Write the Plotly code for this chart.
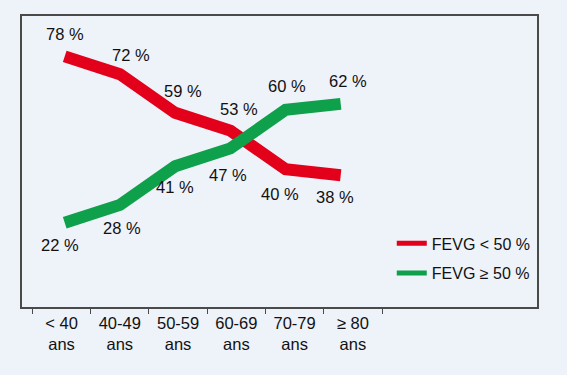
import plotly.graph_objects as go

# ---- data ----
categories = ["< 40<br>ans", "40-49<br>ans", "50-59<br>ans", "60-69<br>ans", "70-79<br>ans", "≥ 80<br>ans"]
fevg_low = [78, 72, 59, 53, 40, 38]      # FEVG < 50 %
fevg_high = [22, 28, 41, 47, 60, 62]     # FEVG ≥ 50 %
name_low = "FEVG < 50 %"
name_high = "FEVG ≥ 50 %"

# ---- styles ----
RED = "#E3001B"
GREEN = "#0EA04A"
BG = "#EEF2F9"
FONT = "Liberation Sans Narrow, Arial Narrow, Liberation Sans, Arial, sans-serif"
TXT = "#111111"
FS = 16.5
FS_LEG = 16

# label offsets in pixels (dx, dy up positive)
low_dx = [0, 11, 8, 9, -6, -6]
low_dy = [22, 19, 22, 22, -25, -22]
high_dx = [-5, 2, 0, -2, 1, 7]
high_dy = [-22, -23, -21, -27, 24, 23]

fig = go.Figure()

fig.add_trace(go.Scatter(x=categories, y=fevg_low, mode="lines", xaxis="x", yaxis="y",
                         line=dict(color=RED, width=12), showlegend=False, hoverinfo="skip"))
fig.add_trace(go.Scatter(x=categories, y=fevg_high, mode="lines", xaxis="x", yaxis="y",
                         line=dict(color=GREEN, width=12), showlegend=False, hoverinfo="skip"))
# legend entries
fig.add_trace(go.Scatter(x=[None], y=[None], mode="lines", name=name_low, legendgroup="a",
                         line=dict(color=RED, width=5)))
fig.add_trace(go.Scatter(x=[None], y=[None], mode="lines", name=name_high, legendgroup="b",
                         line=dict(color=GREEN, width=5)))
# helper trace for the category tick axis
fig.add_trace(go.Scatter(x=categories, y=[None] * len(categories), xaxis="x2", yaxis="y",
                         mode="lines", showlegend=False, hoverinfo="skip"))

annotations = []
for cat, v, dx, dy in zip(categories, fevg_low, low_dx, low_dy):
    annotations.append(dict(x=cat, y=v, xref="x", yref="y", text=f"{v} %", showarrow=False,
                            xshift=dx, yshift=dy, font=dict(family=FONT, size=FS, color=TXT)))
for cat, v, dx, dy in zip(categories, fevg_high, high_dx, high_dy):
    annotations.append(dict(x=cat, y=v, xref="x", yref="y", text=f"{v} %", showarrow=False,
                            xshift=dx, yshift=dy, font=dict(family=FONT, size=FS, color=TXT)))

fig.update_layout(
    width=567, height=375,
    margin=dict(l=22, r=30, t=16, b=68),
    paper_bgcolor=BG, plot_bgcolor=BG,
    font=dict(family=FONT, size=FS, color=TXT),
    showlegend=True,
    legend=dict(x=0.718, y=0.167, xanchor="left", yanchor="middle", bgcolor="rgba(0,0,0,0)",
                font=dict(family=FONT, size=FS_LEG, color=TXT), itemwidth=30,
                traceorder="grouped", tracegroupgap=6),
    xaxis=dict(type="category", categoryorder="array", categoryarray=categories,
               range=[-0.774, 8.556], visible=False, showgrid=False, zeroline=False),
    xaxis2=dict(type="category", categoryorder="array", categoryarray=categories,
                overlaying="x", anchor="y", side="bottom",
                range=[-0.678, 8.16], showgrid=False, zeroline=False,
                showline=True, mirror=True, linecolor="#4a4a4a", linewidth=1.5,
                ticks="outside", tickson="boundaries", ticklen=5, tickcolor="#4a4a4a", tickwidth=1.2,
                tickfont=dict(family=FONT, size=FS, color=TXT)),
    yaxis=dict(range=[-6.4, 91.6], showgrid=False, zeroline=False, showticklabels=False,
               ticks="", showline=True, mirror=True, linecolor="#4a4a4a", linewidth=1.5),
    annotations=annotations,
)

fig.write_html("out.html", config={"displayModeBar": False},
               post_script="document.body.style.margin='0';document.body.style.background='" + BG + "';")
